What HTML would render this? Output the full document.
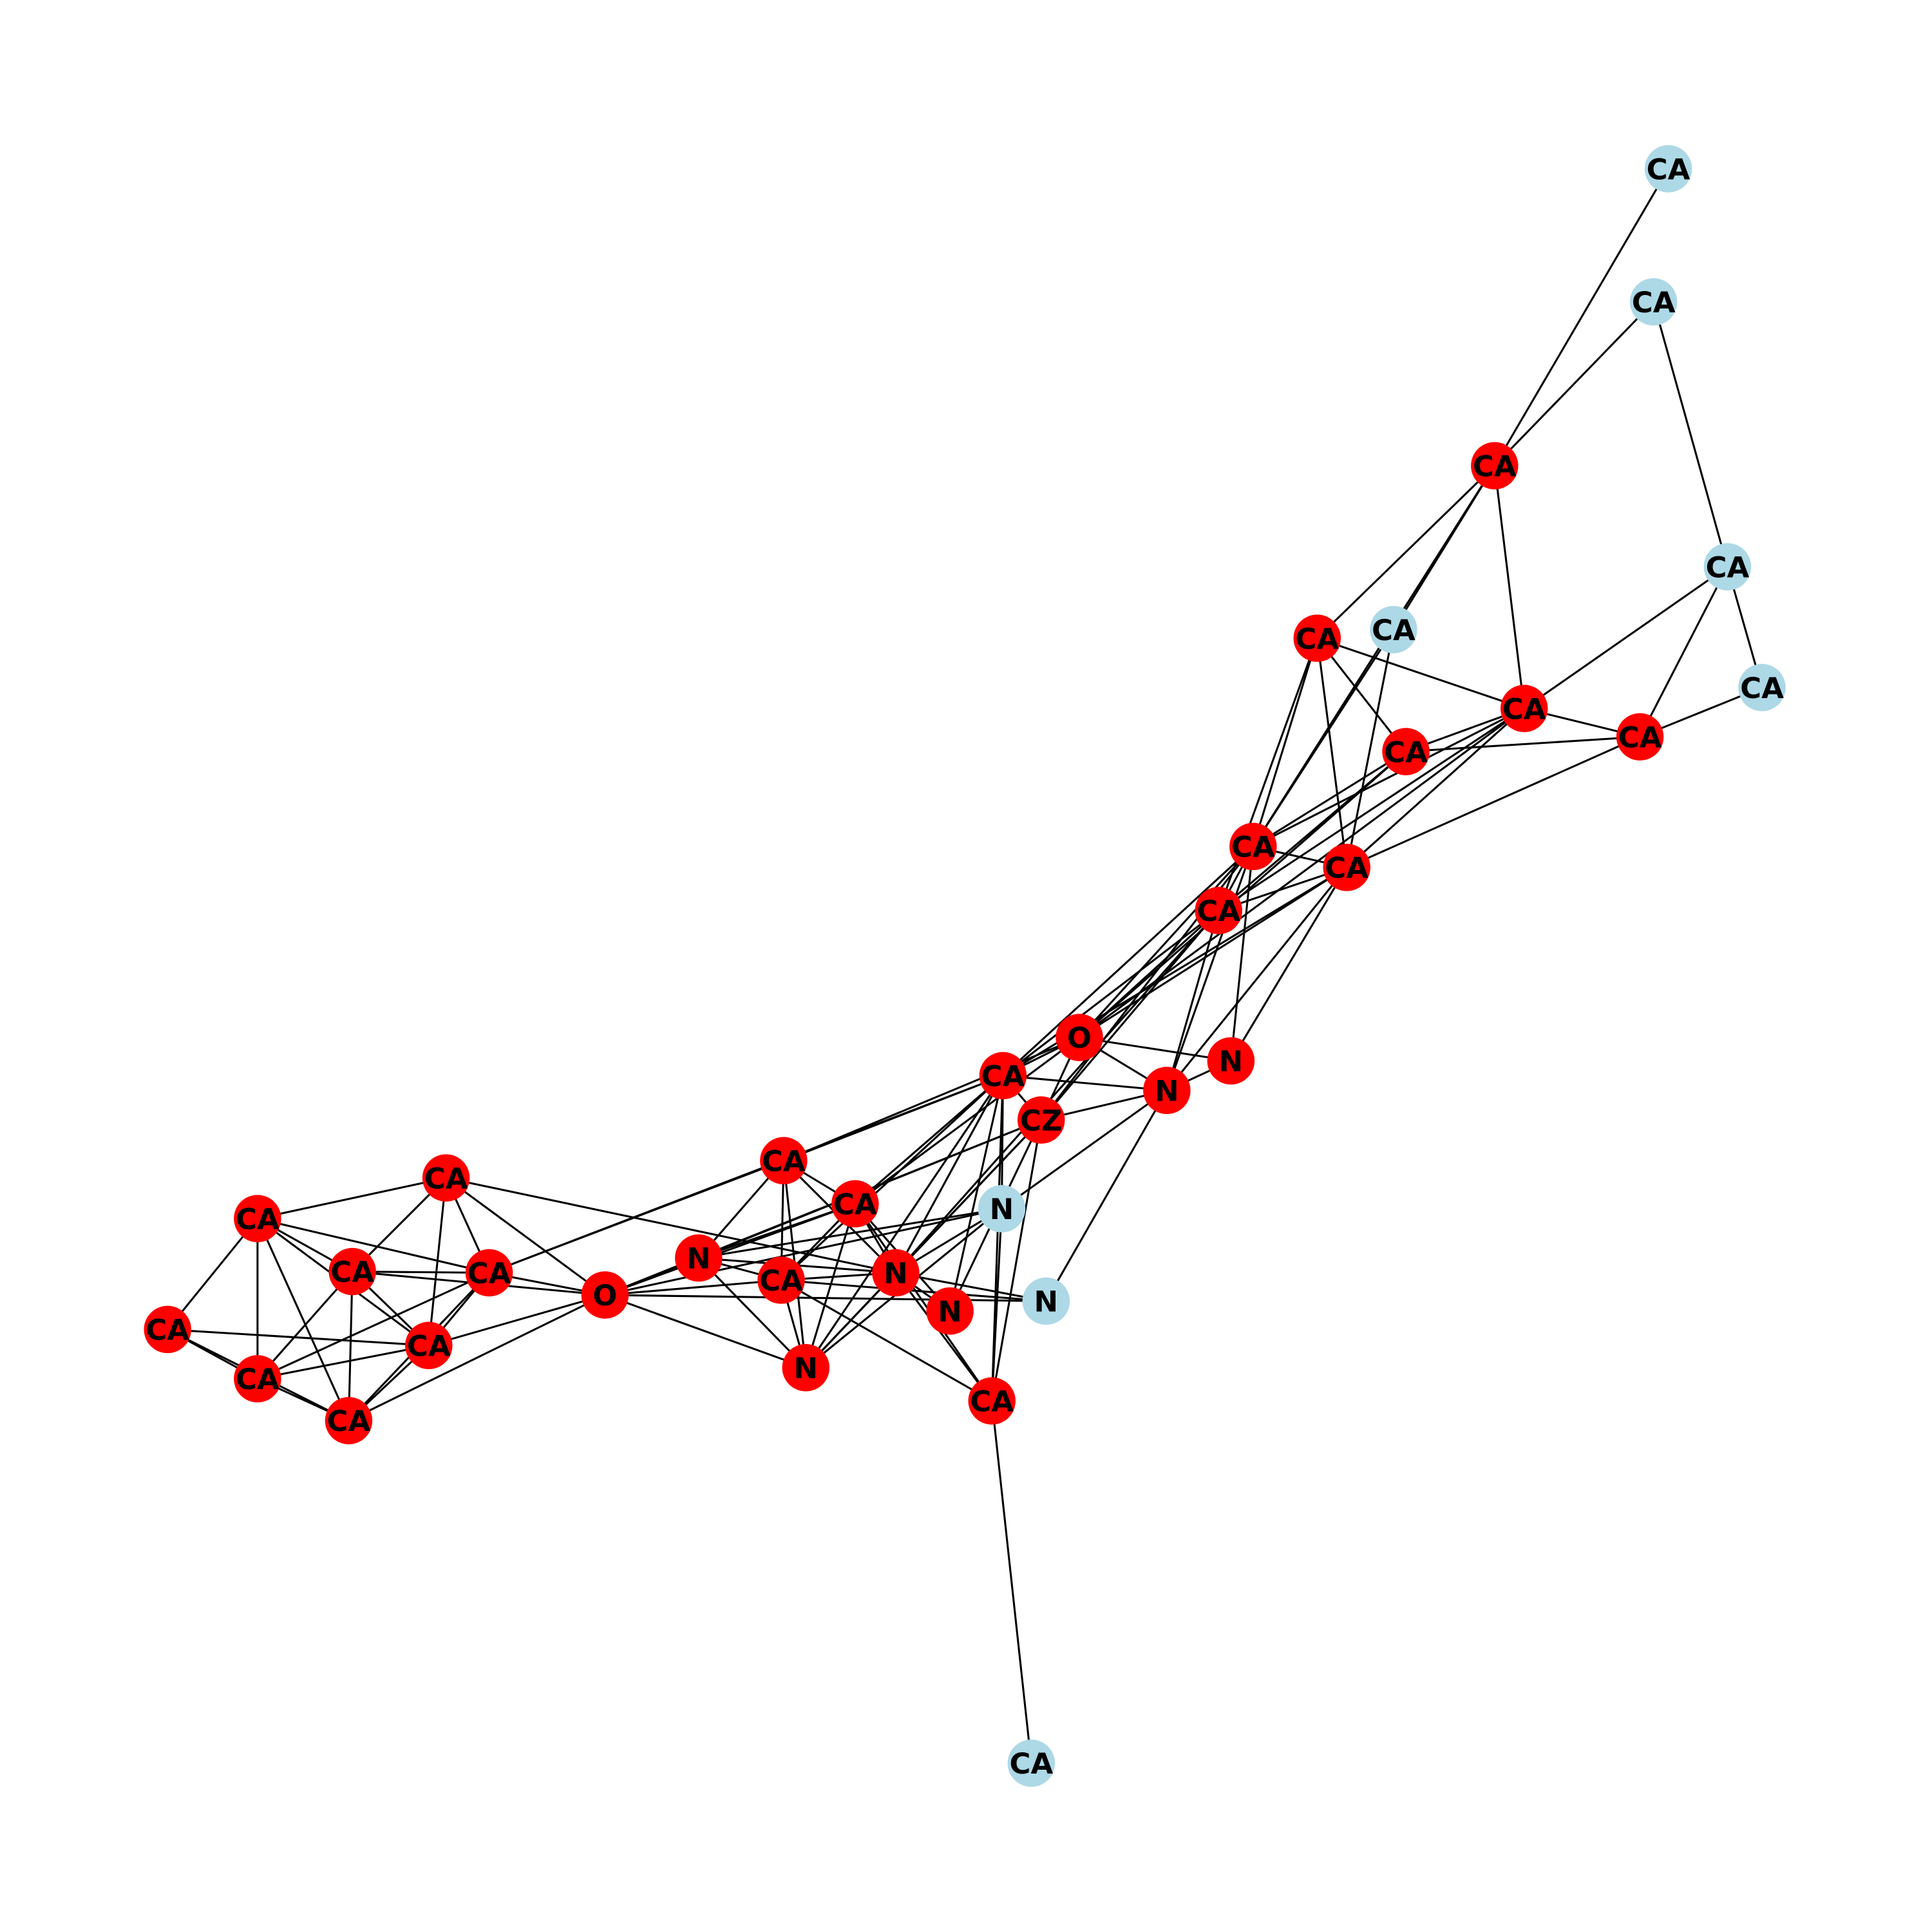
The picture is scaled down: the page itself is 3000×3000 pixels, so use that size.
<!DOCTYPE html>
<html><head><meta charset="utf-8"><style>
html,body{margin:0;padding:0;background:#fff;}
svg{display:block;}
</style></head><body>
<svg id="chart" width="3000" height="3000" viewBox="0 0 1568 1568" xmlns="http://www.w3.org/2000/svg">
<g id="edges"></g>
<g id="nodes"></g>
</svg>
<script>
const nodeX=[1354,1342,1213,1402,1069,1131,1430,1237,1331,1141,1017,1093,989,876,999,947,814,845,636,362,694,813,209,286,397,567,634,727,491,849,771,136,348,209,654,283,805,837];
const nodeY=[137,245,378,460,518,511,558,575,598,610,687,704,739,842,861,885,873,909,942,956,977,981,989,1032,1033,1021,1039,1033,1051,1056,1064,1079,1092,1119,1110,1153,1137,1431];
const nodeLabels=["CA","CA","CA","CA","CA","CA","CA","CA","CA","CA","CA","CA","CA","O","N","N","CA","CZ","CA","CA","CA","N","CA","CA","CA","N","CA","N","O","N","N","CA","CA","CA","N","CA","CA","CA"];
const nodeHighlighted=[0,0,1,0,1,0,0,1,1,1,1,1,1,1,1,1,1,1,1,1,1,0,1,1,1,1,1,1,1,0,1,1,1,1,1,1,1,0];
const edgeFrom=[1,2,2,4,4,4,7,3,3,3,3,5,5,5,5,5,6,6,8,8,8,8,8,8,9,9,10,10,10,11,11,11,11,11,11,11,12,12,12,12,12,13,13,13,13,13,14,14,14,14,14,14,16,16,16,16,15,17,17,17,17,17,17,17,17,17,18,18,18,18,18,18,19,19,19,19,19,19,20,20,20,20,20,20,21,21,21,21,21,21,21,22,22,22,22,22,23,23,23,23,23,23,24,24,24,24,24,25,25,25,25,26,26,26,26,27,27,27,27,27,28,28,28,28,29,29,29,29,32,32,32,33,33,34,37,17];
const edgeTo=[3,3,4,7,8,9,9,5,6,11,8,8,10,11,13,12,11,12,9,10,11,12,13,14,10,12,11,13,14,12,13,14,16,15,17,18,13,16,15,14,17,16,17,18,14,28,15,16,17,18,19,21,17,18,22,30,16,19,18,21,27,28,31,35,22,37,26,28,29,37,31,35,25,26,27,21,28,35,23,24,25,33,29,28,26,27,28,31,29,35,37,26,28,37,35,29,24,25,32,34,36,33,25,33,34,36,29,33,34,36,29,27,28,29,35,28,35,37,30,29,31,37,35,30,36,33,35,30,34,36,33,34,36,36,38,25];
const svgNS="http://www.w3.org/2000/svg";
const eg=document.getElementById('edges');
const n=Math.min(edgeFrom.length,edgeTo.length);
for(let i=0;i<n;i++){
  const a=edgeFrom[i]-1,b=edgeTo[i]-1;
  const l=document.createElementNS(svgNS,'line');
  l.setAttribute('x1',nodeX[a]);l.setAttribute('y1',nodeY[a]);
  l.setAttribute('x2',nodeX[b]);l.setAttribute('y2',nodeY[b]);
  l.setAttribute('stroke','#000');l.setAttribute('stroke-width','1.6');
  
  
  eg.appendChild(l);
}
const ng=document.getElementById('nodes');
for(let i=0;i<nodeX.length;i++){
  const c=document.createElementNS(svgNS,'circle');
  c.setAttribute('cx',nodeX[i]);c.setAttribute('cy',nodeY[i]);c.setAttribute('r','19.2');
  c.setAttribute('fill',nodeHighlighted[i]?'#ff0000':'#add8e6');
  
  
  ng.appendChild(c);
  const t=document.createElementNS(svgNS,'text');
  t.setAttribute('x',nodeX[i]);t.setAttribute('y',nodeY[i]+8.5);
  t.setAttribute('text-anchor','middle');
  t.setAttribute('font-family','"DejaVu Sans","Liberation Sans",sans-serif');
  t.setAttribute('font-weight','bold');t.setAttribute('font-size','23.5');
  t.textContent=nodeLabels[i];
  
  
  ng.appendChild(t);
}
</script>
</body></html>
